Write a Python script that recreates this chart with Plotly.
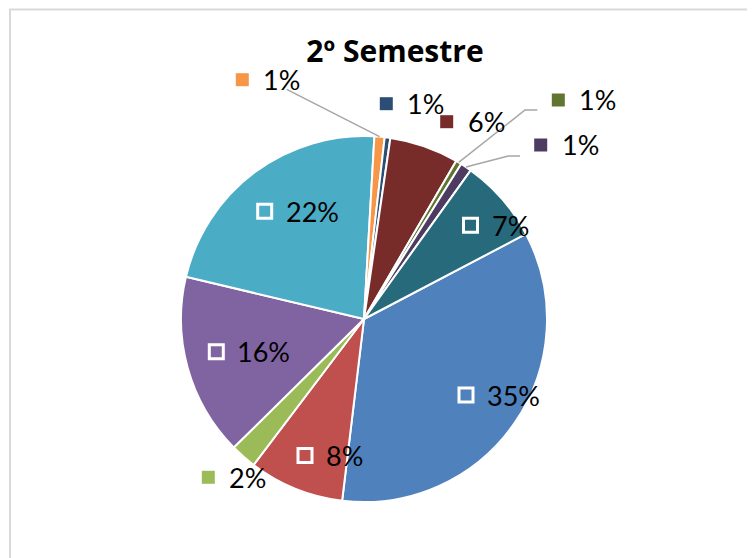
import math
import plotly.graph_objects as go

# datos (orden de la serie, en sentido horario)
categorias = ['Serie 1', 'Serie 2', 'Serie 3', 'Serie 4', 'Serie 5', 'Serie 6',
              'Serie 7', 'Serie 8', 'Serie 9', 'Serie 10', 'Serie 11']
valores = [34.6, 8.4, 2.3, 16.1, 22.2, 0.9, 0.5, 6.1, 0.5, 1.0, 7.4]
etiquetas = ['35%', '8%', '2%', '16%', '22%', '1%', '1%', '6%', '1%', '1%', '7%']
colores = ['#4F81BD', '#C0504D', '#9BBB59', '#8064A2', '#4BACC6', '#F79646',
           '#2C4D75', '#772C2A', '#5F7530', '#4D3B62', '#276A7C']

# la pagina deja 8px de margen en el body: se descuentan aqui
OFF = 8
W, H = 755 - OFF, 558 - OFF
CX, CY, R = 364, 319, 183
ROTACION = 62.3
FUENTE = 'Lato'


def X(px):
    return (px - OFF) / W


def Y(py):
    return 1 - (py - OFF) / H


# posicion del cuadradito de cada etiqueta (px de la imagen) y si va dentro del sector
pos_etiqueta = [(466, 395), (305, 455.5), (208.3, 477.3), (216.3, 351.7), (264.7, 211.3),
                (242.3, 79.7), (386.3, 103.7), (446.7, 121.7), (558.3, 100), (540.7, 145),
                (470.5, 225.3)]
dentro = [True, True, False, True, True, False, False, False, False, False, True]
# lineas guia: indice del sector -> puntos intermedios (px)
guias = {5: [(286.7, 89.3)], 8: [(525, 110), (537.3, 110)], 9: [(508.3, 156), (520, 156)]}

fig = go.Figure(go.Pie(
    labels=categorias, values=valores, sort=False, direction='clockwise',
    rotation=ROTACION, marker=dict(colors=colores, line=dict(color='white', width=2)),
    textinfo='none', hoverinfo='label+percent', showlegend=False,
    domain=dict(x=[X(CX - R), X(CX + R)], y=[Y(CY + R), Y(CY - R)])
))

shapes = []
annotations = []

# marco del grafico
shapes.append(dict(type='rect', xref='paper', yref='paper', x0=X(10), y0=Y(9.5), x1=X(780), y1=Y(580),
                   line=dict(color='#D9D9D9', width=2), fillcolor='rgba(0,0,0,0)'))

total = sum(valores)
acum = 0
for i, v in enumerate(valores):
    medio = ROTACION + (acum + v / 2) / total * 360
    acum += v
    cx, cy = pos_etiqueta[i]
    if dentro[i]:
        s = 14
        shapes.append(dict(type='rect', xref='paper', yref='paper',
                           x0=X(cx - s / 2), x1=X(cx + s / 2), y0=Y(cy - s / 2), y1=Y(cy + s / 2),
                           line=dict(color='white', width=3), fillcolor='rgba(0,0,0,0)'))
    else:
        s = 13
        shapes.append(dict(type='rect', xref='paper', yref='paper',
                           x0=X(cx - s / 2), x1=X(cx + s / 2), y0=Y(cy - s / 2), y1=Y(cy + s / 2),
                           line=dict(width=0), fillcolor=colores[i]))
    annotations.append(dict(x=X(cx + 19), y=Y(cy), xref='paper', yref='paper', text=etiquetas[i],
                            xanchor='left', yanchor='middle', showarrow=False,
                            font=dict(family=FUENTE, size=27, color='black')))
    if i in guias:
        a = math.radians(medio)
        pts = [(CX + R * math.sin(a), CY - R * math.cos(a))] + guias[i]
        path = 'M ' + ' L '.join(f'{X(px)},{Y(py)}' for px, py in pts)
        shapes.append(dict(type='path', xref='paper', yref='paper', path=path,
                           line=dict(color='#A6A6A6', width=1.5)))

fig.update_layout(
    width=W, height=H,
    title=dict(text='<b>2º Semestre</b>', x=X(395), y=Y(51), xanchor='center', yanchor='middle',
               font=dict(family='Open Sans', size=30, color='black')),
    margin=dict(l=0, r=0, t=0, b=0),
    paper_bgcolor='white', plot_bgcolor='white',
    shapes=shapes, annotations=annotations,
)

fig.write_html("out.html")
